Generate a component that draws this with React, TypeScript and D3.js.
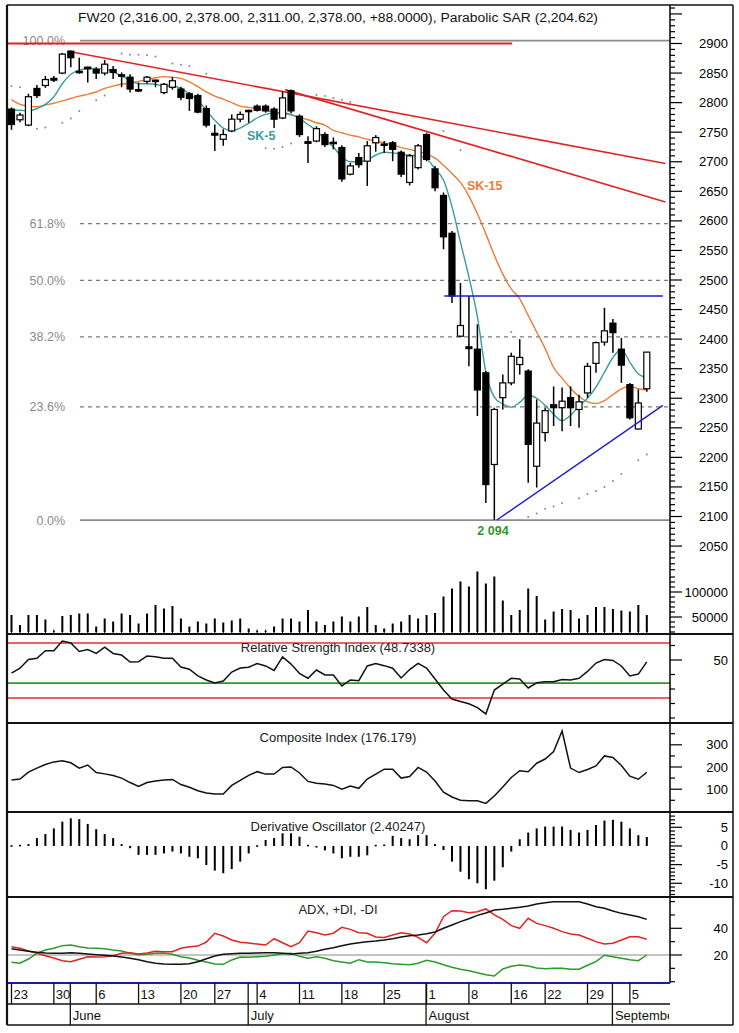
import React from 'react';
import * as d3 from 'd3';

// ---------------- data ----------------
const weekStartIdx = [0, 5, 10, 15, 20, 24, 29, 34, 39, 44, 49, 54, 59, 63, 68, 73];
const weekLabels = ['23', '30', '6', '13', '20', '27', '4', '11', '18', '25', '1', '8', '16', '22', '29', '5'];
const monthStartIdx = [7, 28, 49, 71];
const monthLabels = ['June', 'July', 'August', 'September'];

const opens = [2789, 2771, 2762, 2824, 2829, 2841, 2850, 2887, 2853, 2860,
  2856, 2850, 2856, 2847, 2843, 2822, 2836, 2838, 2817, 2826,
  2823, 2815, 2812, 2790, 2748, 2738, 2752, 2772, 2787, 2794,
  2794, 2789, 2774, 2820, 2777, 2734, 2735, 2746, 2733, 2724,
  2679, 2707, 2701, 2732, 2730, 2732, 2716, 2665, 2690, 2746,
  2688, 2643, 2579, 2405, 2387, 2383, 2343, 2188, 2301, 2326,
  2357, 2346, 2185, 2242, 2289, 2284, 2301, 2281, 2309, 2359,
  2395, 2427, 2383, 2323, 2248, 2316];
const highs = [2792, 2783, 2815, 2830, 2845, 2845, 2884, 2888, 2876, 2861,
  2860, 2872, 2862, 2851, 2848, 2834, 2845, 2839, 2833, 2843,
  2827, 2818, 2815, 2795, 2763, 2755, 2780, 2785, 2788, 2797,
  2797, 2792, 2819, 2822, 2780, 2743, 2760, 2750, 2741, 2728,
  2698, 2715, 2735, 2745, 2735, 2735, 2719, 2713, 2730, 2749,
  2693, 2648, 2583, 2495, 2473, 2425, 2346, 2284, 2340, 2377,
  2400, 2349, 2298, 2284, 2320, 2318, 2320, 2306, 2360, 2396,
  2453, 2434, 2402, 2326, 2315, 2378];
const lows = [2754, 2767, 2760, 2808, 2825, 2835, 2848, 2860, 2849, 2834,
  2840, 2846, 2840, 2826, 2817, 2818, 2832, 2826, 2814, 2822,
  2804, 2786, 2782, 2758, 2718, 2727, 2750, 2767, 2766, 2785,
  2783, 2757, 2772, 2782, 2742, 2698, 2733, 2725, 2721, 2666,
  2677, 2690, 2659, 2717, 2715, 2701, 2674, 2660, 2687, 2701,
  2650, 2552, 2461, 2403, 2354, 2270, 2123, 2094, 2281, 2322,
  2340, 2157, 2149, 2227, 2253, 2244, 2253, 2250, 2301, 2343,
  2389, 2377, 2326, 2264, 2247, 2311];
const closes = [2763, 2779, 2810, 2812, 2839, 2838, 2882, 2876, 2851, 2857,
  2850, 2865, 2851, 2845, 2823, 2820, 2843, 2836, 2831, 2837,
  2809, 2807, 2784, 2762, 2745, 2746, 2772, 2780, 2785, 2787,
  2786, 2772, 2808, 2786, 2746, 2731, 2756, 2729, 2731, 2671,
  2693, 2695, 2727, 2741, 2728, 2721, 2679, 2710, 2727, 2704,
  2656, 2573, 2473, 2423, 2384, 2314, 2154, 2281, 2326, 2371,
  2369, 2222, 2258, 2279, 2284, 2295, 2284, 2294, 2354, 2394,
  2414, 2411, 2356, 2267, 2292, 2378];
const volumes = [54000, 34000, 54000, 54000, 45000, 22000, 52000, 54000, 57000, 57000,
  31000, 47000, 41000, 57000, 54000, 37000, 57000, 74000, 67000, 72000,
  47000, 31000, 41000, 37000, 47000, 39000, 43000, 47000, 27000, 22000,
  22000, 31000, 47000, 47000, 41000, 64000, 41000, 34000, 41000, 51000,
  41000, 51000, 70000, 34000, 27000, 37000, 41000, 54000, 47000, 54000,
  58000, 91000, 107000, 121000, 111000, 141000, 117000, 131000, 83000, 54000,
  64000, 107000, 92000, 45000, 61000, 66000, 64000, 47000, 54000, 70000,
  70000, 66000, 63000, 61000, 74000, 54000];
const sk5 = [2787, 2787, 2786, 2790, 2797, 2810, 2832, 2848, 2855, 2858,
  2858, 2857, 2852, 2845, 2838, 2832, 2832, 2831, 2828, 2828,
  2824, 2815, 2804, 2787, 2770, 2757, 2753, 2757, 2765, 2774,
  2780, 2783, 2783, 2780, 2773, 2763, 2753, 2738, 2725, 2708,
  2700, 2700, 2703, 2711, 2716, 2715, 2713, 2711, 2710, 2705,
  2688, 2669, 2624, 2564, 2505, 2438, 2344, 2302, 2290, 2285,
  2293, 2305, 2300, 2288, 2273, 2262, 2271, 2287, 2300, 2319,
  2344, 2369, 2382, 2361, 2341, 2335];
const sk15 = [2805, 2797, 2794, 2793, 2796, 2799, 2803, 2807, 2811, 2814,
  2818, 2824, 2828, 2831, 2833, 2836, 2839, 2842, 2844, 2843,
  2841, 2835, 2827, 2818, 2811, 2806, 2800, 2794, 2792, 2790,
  2787, 2784, 2781, 2779, 2775, 2771, 2766, 2762, 2753, 2749,
  2745, 2742, 2738, 2735, 2732, 2729, 2724, 2721, 2717, 2713,
  2706, 2694, 2680, 2665, 2642, 2612, 2578, 2542, 2510, 2485,
  2468, 2440, 2412, 2384, 2352, 2334, 2317, 2303, 2294, 2291,
  2296, 2306, 2316, 2320, 2316, 2314];
const sar: (number | null)[] = [2828, 2826, null, 2756, 2758, null, 2766, 2773, 2786, null,
  2804, 2812, null, 2883, 2881, 2881, 2880, 2878, null, 2866,
  2864, 2862, null, 2849, null, null, null, null, null, null,
  2723, 2722, 2725, 2731, null, null, 2813, 2811, 2808, 2805,
  2801, null, null, null, 2773, null, null, null, null, null,
  null, 2752, null, 2720, null, null, null, null, null, 2412,
  2094, 2099, 2105, 2113, 2117, 2123, null, 2131, 2138, 2143,
  2150, 2160, 2172, null, 2195, 2205];
const rsi = [41.0, 44.3, 50.3, 51.2, 56.4, 56.4, 63.1, 61.7, 55.9, 57.2,
  54.6, 58.8, 54.5, 53.4, 48.6, 48.8, 52.8, 52.3, 51.2, 51.2,
  45.2, 43.6, 39.0, 36.2, 34.1, 35.5, 41.7, 44.5, 45.0, 47.6,
  45.9, 42.8, 52.1, 47.2, 40.7, 37.4, 43.1, 39.7, 39.7, 32.1,
  36.2, 35.7, 45.9, 47.6, 46.1, 44.3, 37.6, 43.4, 47.7, 44.5,
  36.9, 29.3, 23.1, 21.4, 19.8, 17.2, 12.8, 29.3, 33.4, 37.4,
  36.9, 30.7, 34.3, 35.0, 35.0, 36.6, 36.2, 37.4, 42.1, 47.9,
  50.3, 49.7, 45.9, 39.0, 40.3, 48.7338];
const rsiLevelsRed = [61.7, 23.8];
const rsiLevelGreen = 34.1;
const composite = [141, 146, 177, 195, 211, 223, 228, 219, 195, 209,
  175, 169, 162, 150, 130, 113, 130, 137, 141, 144,
  121, 109, 93, 83, 78, 78, 117, 140, 162, 179,
  168, 168, 198, 200, 173, 135, 127, 123, 117, 100,
  114, 104, 146, 168, 190, 190, 150, 157, 198, 177,
  137, 87, 65, 50, 48, 48, 36, 69, 110, 153,
  183, 179, 217, 236, 270, 362, 195, 175, 189, 205,
  250, 243, 207, 159, 145, 176.179];
const derivOsc = [0.2, 0.3, 0.5, 2.1, 3.2, 4.7, 6.5, 7.4, 7.2, 5.9,
  4.5, 3.2, 2.1, 0.5, -0.6, -2.4, -2.4, -2.4, -2.0, -1.5,
  -2.0, -2.9, -3.3, -5.1, -6.6, -7.3, -6.2, -4.2, -2.0, 0.2,
  1.6, 2.1, 3.4, 3.4, 2.5, 0.3, -0.3, -1.2, -2.0, -3.3,
  -2.9, -2.9, -2.5, 0.3, 0.4, 2.7, 2.1, 1.8, 2.9, 2.9,
  0.5, -1.1, -4.2, -6.9, -8.9, -10.0, -11.6, -9.3, -5.7, -1.5,
  1.8, 3.6, 4.7, 5.2, 5.2, 5.2, 4.3, 3.6, 4.3, 5.6,
  6.8, 7.0, 6.5, 4.7, 2.9, 2.40247];
const minusDI = [26.2, 25.0, 23.0, 21.3, 19.5, 17.8, 15.7, 15.0, 16.8, 18.7,
  18.5, 18.7, 19.5, 21.3, 21.7, 20.7, 21.5, 22.8, 22.5, 22.5,
  25.0, 26.2, 26.7, 29.7, 36.3, 34.2, 31.2, 29.5, 29.0, 28.2,
  27.5, 32.2, 29.2, 26.2, 29.2, 38.0, 36.7, 35.0, 36.3, 40.7,
  39.2, 36.7, 36.3, 33.5, 33.2, 35.0, 36.7, 35.7, 33.2, 29.2,
  36.3, 48.7, 53.2, 53.0, 51.7, 52.4, 54.5, 50.0, 46.7, 42.0,
  40.0, 47.5, 43.7, 42.0, 40.0, 37.5, 35.7, 35.0, 32.5, 30.0,
  28.2, 28.8, 31.2, 33.7, 33.7, 31.8];
const plusDI = [14.5, 13.8, 17.0, 21.3, 23.7, 25.0, 27.0, 27.5, 26.2, 25.2,
  25.0, 24.7, 23.7, 23.0, 21.3, 20.2, 20.5, 21.3, 21.5, 20.5,
  18.7, 17.8, 16.0, 14.8, 13.3, 13.0, 16.3, 18.5, 18.3, 18.7,
  19.0, 20.0, 21.0, 21.3, 19.0, 17.5, 18.7, 17.5, 15.7, 14.8,
  13.8, 16.5, 14.8, 14.8, 14.2, 13.5, 13.0, 12.7, 13.8, 16.0,
  14.8, 12.7, 10.8, 9.3, 8.2, 6.7, 5.2, 4.3, 9.5, 11.5,
  12.5, 11.8, 10.3, 9.7, 10.0, 10.0, 9.3, 9.3, 12.3, 15.0,
  19.8, 18.7, 17.5, 16.5, 15.7, 20.0];
const adx = [24.7, 23.7, 22.8, 22.0, 21.5, 21.3, 21.3, 21.7, 21.3, 20.7,
  20.2, 19.8, 19.3, 18.5, 17.5, 16.5, 15.0, 13.8, 13.3, 13.0,
  13.0, 13.5, 15.0, 17.2, 19.3, 20.5, 21.0, 21.3, 21.3, 21.5,
  21.7, 21.7, 21.3, 20.7, 21.3, 21.7, 22.8, 24.3, 25.5, 27.0,
  28.2, 29.2, 30.0, 30.5, 31.2, 32.2, 33.5, 34.5, 35.0, 36.0,
  37.2, 40.0, 42.5, 45.0, 47.2, 49.7, 51.5, 53.7, 54.2, 55.0,
  55.7, 56.7, 58.2, 59.2, 59.9, 59.9, 59.9, 59.9, 58.2, 56.2,
  55.0, 53.0, 51.2, 50.0, 48.7, 46.7];

const fibLow = 2094;
const fibHigh = 2905;
const fibLevels = [0, 23.6, 38.2, 50.0, 61.8, 100.0];
const resistanceLines = [
  { i1: 6.67, p1: 2887, i2: 77.2, p2: 2697 },
  { i1: 32.3, p1: 2822, i2: 77.2, p2: 2632 },
];
const resistanceLevel = { i1: -0.53, i2: 59.1, p: 2900 };
const supportLevel = { i1: 51.1, i2: 76.9, p: 2473 };
const supportTrend = { i1: 57.3, p1: 2094, i2: 76.9, p2: 2288 };

const titleText = 'FW20 (2,316.00, 2,378.00, 2,311.00, 2,378.00, +88.0000), Parabolic SAR (2,204.62)';

const FONT = "'Liberation Sans', Arial, Helvetica, sans-serif";
const X0 = 7, XR = 670, XO = 733, YT = 5, YB = 1025;

export default function App() {
  const n = closes.length;
  const x = d3.scaleLinear().domain([0, 75]).range([11.5, 646.8]);
  const yP = d3.scaleLinear().domain([2100, 2900]).range([516.5, 43.5]);
  const yV = d3.scaleLinear().domain([0, 150000]).range([642, 567]);
  const yR = d3.scaleLinear().domain([0, 100]).range([732.5, 587.5]);
  const yC = d3.scaleLinear().domain([0, 400]).range([811.4, 722.6]);
  const yD = d3.scaleLinear().domain([-10, 5]).range([883.3, 827.3]);
  const yA = d3.scaleLinear().domain([0, 60]).range([981.7, 901.6]);

  const smooth = (arr: number[], ys: any) =>
    d3.line<number>().x((_, i) => x(i)).y((d) => ys(d)).curve(d3.curveMonotoneX)(arr) || '';
  const jag = (arr: number[], ys: any) =>
    d3.line<number>().x((_, i) => x(i)).y((d) => ys(d))(arr) || '';

  const idx = d3.range(n);

  // right-axis ticks
  type Tk = { y: number; major: boolean; label?: string };
  const priceTicks: Tk[] = d3.range(2010, 2961, 10).map((v) => ({
    y: yP(v), major: v % 50 === 0, label: v % 50 === 0 && v >= 2050 && v <= 2900 ? String(v) : undefined,
  })).filter((t) => t.y > 8 && t.y < 572);
  const volTicks: Tk[] = d3.range(20000, 140001, 10000).map((v) => ({
    y: yV(v), major: v % 50000 === 0, label: v % 50000 === 0 ? String(v) : undefined,
  })).filter((t) => t.y > 575 && t.y < 633);
  const rsiTicks: Tk[] = d3.range(10, 70, 10).map((v) => ({ y: yR(v), major: v === 50, label: v === 50 ? '50' : undefined }))
    .filter((t) => t.y > 636 && t.y < 722);
  const compTicks: Tk[] = d3.range(50, 401, 50).map((v) => ({ y: yC(v), major: v % 100 === 0, label: v % 100 === 0 && v <= 300 ? String(v) : undefined }))
    .filter((t) => t.y > 725 && t.y < 811);
  const derivTicks: Tk[] = d3.range(-13, 9, 1).map((v) => ({ y: yD(v), major: v % 5 === 0, label: v % 5 === 0 ? String(v) : undefined }))
    .filter((t) => t.y > 814 && t.y < 896);
  const adxTicks: Tk[] = d3.range(0, 61, 10).map((v) => ({ y: yA(v), major: v === 20 || v === 40, label: v === 20 || v === 40 ? String(v) : undefined }))
    .filter((t) => t.y > 898 && t.y < 983);
  const allTicks = [...priceTicks, ...volTicks, ...rsiTicks, ...compTicks, ...derivTicks, ...adxTicks];

  const fibY = (lvl: number) => yP(fibLow + (fibHigh - fibLow) * lvl / 100);

  const panelTitle = (txt: string, y: number) => (
    <text x={338} y={y} textAnchor="middle" fontSize={13} fill="#222" fontFamily={FONT}>{txt}</text>
  );

  return (
    <svg width={739} height={1033} style={{ position: 'absolute', left: 0, top: 0, display: 'block' }} fontFamily={FONT}>
      <defs>
        <clipPath id="mainClip"><rect x={X0} y={YT} width={XR - X0} height={632 - YT} /></clipPath>
        <clipPath id="dateClip"><rect x={X0} y={983} width={XR - X0 - 1} height={42} /></clipPath>
        <clipPath id="plotClip"><rect x={X0} y={YT} width={XR - X0} height={983 - YT} /></clipPath>
      </defs>
      <rect x={0} y={0} width={739} height={1033} fill="#fff" />

      {/* ---------- title ---------- */}
      <text x={78} y={22} fontSize={12.5} fill="#111" textLength={520} lengthAdjust="spacingAndGlyphs">{titleText}</text>

      {/* ---------- fib levels ---------- */}
      {fibLevels.map((lvl) => {
        const y = fibY(lvl);
        const solid = lvl === 0 || lvl === 100;
        return (
          <g key={'fib' + lvl}>
            <line x1={80} x2={XR} y1={y} y2={y} stroke={solid ? '#8c8c8c' : '#7a7a7a'}
              strokeWidth={solid ? 1.8 : 1.2} strokeDasharray={solid ? undefined : '4,4'} />
            <text x={65} y={y + 4.5} textAnchor="end" fontSize={12.5} fill="#8a8a8a">{lvl.toFixed(1)}%</text>
          </g>
        );
      })}

      <g clipPath="url(#mainClip)">
        {/* volume */}
        {idx.map((i) => (
          <rect key={'v' + i} x={x(i) - 1} width={2} y={yV(volumes[i])} height={642 - yV(volumes[i])} fill="#000" />
        ))}

        {/* SAR */}
        {sar.map((v, i) => v == null ? null : (
          <circle key={'s' + i} cx={x(i)} cy={yP(v)} r={1} fill="#888" />
        ))}

        {/* resistance */}
        <line x1={x(resistanceLevel.i1)} x2={x(resistanceLevel.i2)} y1={yP(resistanceLevel.p)} y2={yP(resistanceLevel.p)} stroke="#e02424" strokeWidth={1.8} />
        {resistanceLines.map((l, k) => (
          <line key={'rl' + k} x1={x(l.i1)} y1={yP(l.p1)} x2={x(l.i2)} y2={yP(l.p2)} stroke="#e02424" strokeWidth={1.6} />
        ))}

        {/* moving averages */}
        <path d={smooth(sk15, yP)} fill="none" stroke="#f07a35" strokeWidth={1.4} />
        <path d={smooth(sk5, yP)} fill="none" stroke="#3a9c9e" strokeWidth={1.4} />

        {/* candles */}
        {idx.map((i) => {
          const o = opens[i], c = closes[i], h = highs[i], l = lows[i];
          const up = c >= o;
          const top = yP(Math.max(o, c));
          const bh = Math.max(Math.abs(yP(o) - yP(c)), 1.4);
          return (
            <g key={'c' + i}>
              <line x1={x(i)} x2={x(i)} y1={yP(h)} y2={yP(l)} stroke="#000" strokeWidth={1.5} />
              <rect x={x(i) - 3} width={6} y={top} height={bh} fill={up ? '#fff' : '#000'} stroke="#000" strokeWidth={1.2} />
            </g>
          );
        })}

        {/* support */}
        <line x1={x(supportLevel.i1)} x2={x(supportLevel.i2)} y1={yP(supportLevel.p)} y2={yP(supportLevel.p)} stroke="#1c1ccf" strokeWidth={1.6} />
        <line x1={x(supportTrend.i1)} y1={yP(supportTrend.p1)} x2={x(supportTrend.i2)} y2={yP(supportTrend.p2)} stroke="#1c1ccf" strokeWidth={1.4} />
      </g>

      {/* labels in main panel */}
      <text x={247} y={140} fontSize={12.5} fontWeight="bold" fill="#3a9c9e">SK-5</text>
      <text x={467} y={190} fontSize={12.5} fontWeight="bold" fill="#f07a35">SK-15</text>
      <text x={493} y={535} textAnchor="middle" fontSize={12.5} fontWeight="bold" fill="#2c9a2c">2 094</text>

      {/* day ticks at bottom of main panel */}
      {idx.map((i) => (
        <line key={'dt' + i} x1={x(i)} x2={x(i)} y1={629.5} y2={634} stroke="#000" strokeWidth={1} />
      ))}

      {/* ---------- RSI ---------- */}
      {rsiLevelsRed.map((v, k) => (
        <line key={'rr' + k} x1={X0} x2={XR} y1={yR(v)} y2={yR(v)} stroke="#e03030" strokeWidth={1.6} />
      ))}
      <line x1={X0} x2={XR} y1={yR(rsiLevelGreen)} y2={yR(rsiLevelGreen)} stroke="#2a9a2a" strokeWidth={1.8} />
      {panelTitle('Relative Strength Index (48.7338)', 652)}
      <path d={jag(rsi, yR)} fill="none" stroke="#111" strokeWidth={1.5} />

      {/* ---------- Composite ---------- */}
      {panelTitle('Composite Index (176.179)', 742)}
      <path d={jag(composite, yC)} fill="none" stroke="#111" strokeWidth={1.5} />

      {/* ---------- Derivative oscillator ---------- */}
      {panelTitle('Derivative Oscillator (2.40247)', 831)}
      {idx.map((i) => {
        const y0 = yD(0), y1 = yD(derivOsc[i]);
        const top = Math.min(y0, y1);
        const h = Math.max(Math.abs(y1 - y0), 1.6);
        return <rect key={'d' + i} x={x(i) - 1} width={2} y={top} height={h} fill="#000" />;
      })}

      {/* ---------- ADX ---------- */}
      <line x1={X0} x2={XR} y1={yA(20)} y2={yA(20)} stroke="#8a8a8a" strokeWidth={1.2} />
      {panelTitle('ADX, +DI, -DI', 914)}
      <path d={jag(plusDI, yA)} fill="none" stroke="#2a9a2a" strokeWidth={1.5} />
      <path d={jag(minusDI, yA)} fill="none" stroke="#e02424" strokeWidth={1.5} />
      <path d={jag(adx, yA)} fill="none" stroke="#111" strokeWidth={1.5} />

      {/* ---------- right axis ---------- */}
      <line x1={XR} x2={XR} y1={YT} y2={983} stroke="#000" strokeWidth={1.5} />
      {allTicks.map((t, k) => (
        <g key={'tk' + k}>
          <line x1={XR} x2={XR + (t.major ? 12 : 5)} y1={t.y} y2={t.y} stroke="#000" strokeWidth={1.2} />
          {t.label ? <text x={728} y={t.y + 4.5} textAnchor="end" fontSize={13} fill="#000">{t.label}</text> : null}
        </g>
      ))}

      {/* ---------- panel borders ---------- */}
      {[634, 723, 812, 897].map((y) => (
        <line key={'pb' + y} x1={X0} x2={XO} y1={y} y2={y} stroke="#111" strokeWidth={2} />
      ))}
      <line x1={X0} x2={XR} y1={983} y2={983} stroke="#1a1aa8" strokeWidth={2.2} />

      {/* ---------- date axis ---------- */}
      <line x1={X0} x2={XR} y1={1004} y2={1004} stroke="#111" strokeWidth={1.5} />
      <g clipPath="url(#dateClip)">
        {weekStartIdx.map((wi, k) => (
          <g key={'w' + k}>
            <line x1={x(wi)} x2={x(wi)} y1={983} y2={1004} stroke="#111" strokeWidth={1.3} />
            <text x={x(wi) + 2} y={999} fontSize={13} fill="#111">{weekLabels[k]}</text>
          </g>
        ))}
        {monthStartIdx.map((mi, k) => (
          <g key={'m' + k}>
            <line x1={x(mi) - 0.5} x2={x(mi) - 0.5} y1={983} y2={1025} stroke="#111" strokeWidth={1.3} />
            <text x={x(mi) + 2} y={1020} fontSize={13} fill="#111">{monthLabels[k]}</text>
          </g>
        ))}
      </g>

      {/* ---------- outer frame ---------- */}
      <line x1={X0} x2={XO} y1={YT} y2={YT} stroke="#111" strokeWidth={1.5} />
      <line x1={X0} x2={XO} y1={YB} y2={YB} stroke="#111" strokeWidth={1.5} />
      <line x1={X0} x2={X0} y1={YT} y2={YB} stroke="#111" strokeWidth={2.2} />
      <line x1={XO} x2={XO} y1={YT} y2={YB} stroke="#111" strokeWidth={1.5} />
    </svg>
  );
}
